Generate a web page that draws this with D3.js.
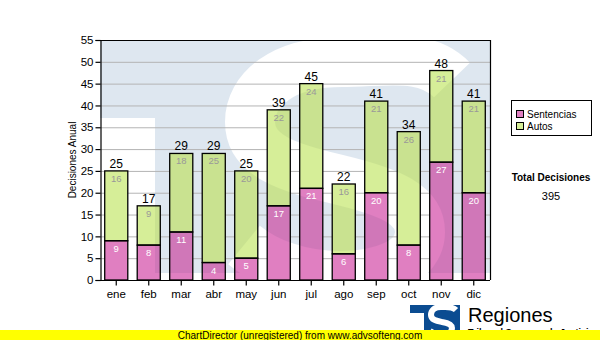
<!DOCTYPE html>
<html>
<head>
<meta charset="utf-8">
<script src="https://cdn.jsdelivr.net/npm/d3@7"></script>
<style>
  html, body { margin: 0; padding: 0; background: #ffffff; }
  svg { display: block; }
</style>
</head>
<body>
<script>
// Monthly decisions: sentences and orders, stacked
const months = ["ene", "feb", "mar", "abr", "may", "jun", "jul", "ago", "sep", "oct", "nov", "dic"];
const sentencias = [9, 8, 11, 4, 5, 17, 21, 6, 20, 8, 27, 20];
const autos = [16, 9, 18, 25, 20, 22, 24, 16, 21, 26, 21, 21];
const yTicks = [0, 5, 10, 15, 20, 25, 30, 35, 40, 45, 50, 55];
const seriesNames = ["Sentencias", "Autos"];
const seriesColors = ["#e07fc1", "#d6ee98"];
const seriesShade = ["#d077b8", "#c9e290"];

const W = 600, H = 340;
const m = { left: 100, right: 490, top: 40, bottom: 280 };
const FONT = "'Liberation Sans', Arial, sans-serif";

const svg = d3.select("body").append("svg").attr("width", W).attr("height", H);
const defs = svg.append("defs");

const x = d3.scaleBand().domain(months).range([m.left, m.right]).paddingInner(0.29).paddingOuter(0.145);
const y = d3.scaleLinear().domain([0, 55]).range([m.bottom, m.top]);

const rows = months.map((mo, i) => ({ mo, s: sentencias[i], a: autos[i], t: sentencias[i] + autos[i] }));
const stack = d3.stack().keys(["s", "a"])(rows);

// Background emblem: tinted square with a notch and a large white "S"
const sPath = "M452,80 C425,52 385,62 342,62 C282,62 250,90 250,122 C250,160 300,170 340,180 C390,192 420,205 420,232 C420,262 382,276 340,276 C300,276 266,263 244,245";
const mask = defs.append("mask").attr("id", "emblemMask").attr("maskUnits", "userSpaceOnUse")
  .attr("x", 0).attr("y", 0).attr("width", W).attr("height", H);
mask.append("rect").attr("x", m.left).attr("y", m.top).attr("width", m.right - m.left).attr("height", 233).attr("fill", "#fff");
mask.append("rect").attr("x", 100).attr("y", 118).attr("width", 55).attr("height", 200).attr("fill", "#000");
mask.append("path").attr("d", sPath).attr("fill", "none").attr("stroke", "#000").attr("stroke-width", 50);

svg.append("rect").attr("x", m.left).attr("y", m.top).attr("width", m.right - m.left).attr("height", 240)
  .attr("fill", "#dee7f0").attr("mask", "url(#emblemMask)");

// Gridlines
svg.append("g").selectAll("line").data(yTicks.filter(d => d > 0 && d < 55)).join("line")
  .attr("x1", m.left).attr("x2", m.right)
  .attr("y1", d => y(d) + 0.5).attr("y2", d => y(d) + 0.5)
  .attr("stroke", "#b4b4b4").attr("stroke-width", 1);

// Bars: plain fill, then a shaded copy where the emblem lies behind
function drawBars(g, colors) {
  g.selectAll("g").data(stack).join("g")
    .attr("fill", (d, i) => colors[i])
    .selectAll("rect").data(d => d).join("rect")
    .attr("x", d => x(d.data.mo))
    .attr("y", d => y(d[1]))
    .attr("width", x.bandwidth())
    .attr("height", d => y(d[0]) - y(d[1]));
}
drawBars(svg.append("g"), seriesColors);
drawBars(svg.append("g").attr("mask", "url(#emblemMask)"), seriesShade);

svg.append("g").selectAll("rect").data(stack.flat()).join("rect")
  .attr("x", d => x(d.data.mo))
  .attr("y", d => y(d[1]))
  .attr("width", x.bandwidth())
  .attr("height", d => y(d[0]) - y(d[1]))
  .attr("fill", "none").attr("stroke", "#000").attr("stroke-width", 1.3);

// Frame: top and right borders
svg.append("path")
  .attr("d", `M${m.left},${m.top + 0.5}H${m.right + 0.5}V${m.bottom}`)
  .attr("fill", "none").attr("stroke", "#000").attr("stroke-width", 1.2);

// Axes
const yAxis = d3.axisLeft(y).tickValues(yTicks).tickSize(5).tickPadding(2);
const gy = svg.append("g").attr("transform", `translate(${m.left + 0.5},0)`).call(yAxis);
gy.selectAll("text").attr("font-family", FONT).attr("font-size", 11.5).attr("fill", "#000");
gy.selectAll("line, path").attr("stroke", "#000").attr("stroke-width", 1.2);

const xAxis = d3.axisBottom(x).tickSize(5).tickSizeOuter(0).tickPadding(4);
const gx = svg.append("g").attr("transform", `translate(0,${m.bottom + 0.5})`).call(xAxis);
gx.selectAll("text").attr("font-family", FONT).attr("font-size", 11.5).attr("fill", "#000");
gx.selectAll("line, path").attr("stroke", "#000").attr("stroke-width", 1.2);
gx.select(".domain").attr("d", `M${m.left},0H${m.right}`);

svg.append("text")
  .attr("transform", `translate(76,${(m.top + m.bottom) / 2}) rotate(-90)`)
  .attr("text-anchor", "middle").attr("font-family", FONT).attr("font-size", 10).attr("fill", "#000")
  .text("Decisiones Anual");

// Value labels
svg.append("g").selectAll("text").data(rows).join("text")
  .attr("x", d => x(d.mo) + x.bandwidth() / 2)
  .attr("y", d => y(d.t) - 3)
  .attr("text-anchor", "middle").attr("font-family", FONT).attr("font-size", 12).attr("fill", "#000")
  .text(d => d.t);

svg.append("g").selectAll("text").data(rows).join("text")
  .attr("x", d => x(d.mo) + x.bandwidth() / 2)
  .attr("y", d => y(d.t) + 11)
  .attr("text-anchor", "middle").attr("font-family", FONT).attr("font-size", 9.5).attr("fill", "#999999")
  .text(d => d.a);

svg.append("g").selectAll("text").data(rows).join("text")
  .attr("x", d => x(d.mo) + x.bandwidth() / 2)
  .attr("y", d => y(d.s) + 11)
  .attr("text-anchor", "middle").attr("font-family", FONT).attr("font-size", 9.5).attr("fill", "#ffffff")
  .text(d => d.s);

// Legend
const lg = svg.append("g");
lg.append("rect").attr("x", 511.5).attr("y", 100.5).attr("width", 80).attr("height", 35)
  .attr("fill", "#fff").attr("stroke", "#000").attr("stroke-width", 1);
seriesNames.forEach((name, i) => {
  lg.append("rect").attr("x", 516.5).attr("y", 110.5 + i * 12).attr("width", 7).attr("height", 7)
    .attr("fill", seriesColors[i]).attr("stroke", "#000").attr("stroke-width", 1);
  lg.append("text").attr("x", 527).attr("y", 118 + i * 12)
    .attr("font-family", FONT).attr("font-size", 10).attr("fill", "#000").text(name);
});

// Total
const total = d3.sum(sentencias) + d3.sum(autos);
svg.append("text").attr("x", 551).attr("y", 181).attr("text-anchor", "middle")
  .attr("font-family", FONT).attr("font-size", 10).attr("font-weight", "bold").attr("fill", "#000")
  .text("Total Decisiones");
svg.append("text").attr("x", 551).attr("y", 200).attr("text-anchor", "middle")
  .attr("font-family", FONT).attr("font-size", 11).attr("fill", "#000")
  .text(total);

// Logo
const logo = svg.append("g");
logo.append("path")
  .attr("d", "M410,305H460V336H410Z")
  .attr("fill", "#0b4c91");
logo.append("rect").attr("x", 410).attr("y", 313).attr("width", 14).attr("height", 24).attr("fill", "#fff");
logo.append("path")
  .attr("d", "M456,310 C452,306 446,307 441,307 C434,307 431,311 431,315 C431,320 437,321 442,322 C448,323 452,325 452,328 C452,333 446,335 440,335 C436,335 433,333 430,331")
  .attr("fill", "none").attr("stroke", "#fff").attr("stroke-width", 6);
logo.append("text").attr("x", 468).attr("y", 322)
  .attr("font-family", FONT).attr("font-size", 20).attr("fill", "#000").text("Regiones");
logo.append("text").attr("x", 468).attr("y", 335)
  .attr("font-family", FONT).attr("font-size", 9).attr("font-weight", "bold").attr("fill", "#000")
  .text("Tribunal Supremo de Justicia");

// Footer bar
svg.append("rect").attr("x", 0).attr("y", 330).attr("width", W).attr("height", 10).attr("fill", "#ffff00");
svg.append("text").attr("x", 300).attr("y", 338.5).attr("text-anchor", "middle")
  .attr("font-family", FONT).attr("font-size", 10).attr("fill", "#000")
  .text("ChartDirector (unregistered) from www.advsofteng.com");
</script>
</body>
</html>
